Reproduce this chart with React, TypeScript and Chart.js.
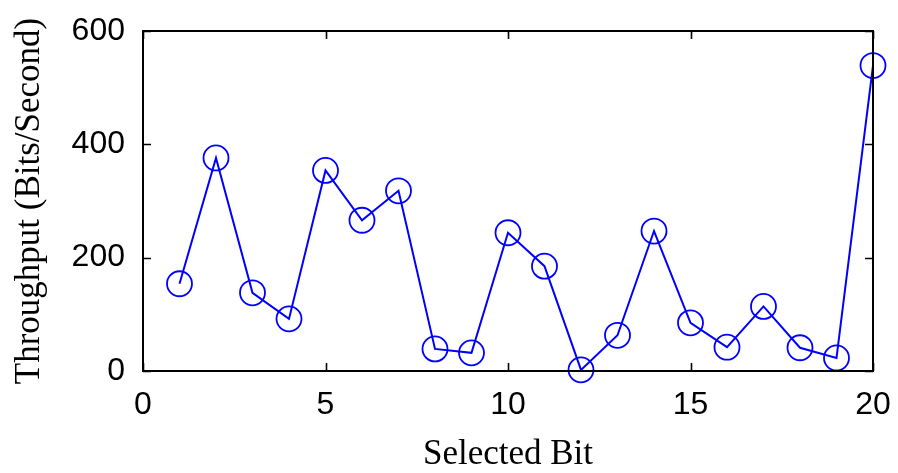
import React, { useEffect, useRef } from "react";
import { Chart, registerables } from "chart.js";

Chart.register(...registerables);

// Selected bit index (x) and measured throughput in bits/second (y)
const selectedBits = [1, 2, 3, 4, 5, 6, 7, 8, 9, 10, 11, 12, 13, 14, 15, 16, 17, 18, 19, 20];
const throughput = [154, 376, 138, 92, 354, 266, 318, 39, 32, 244, 185, 2, 63, 247, 85, 42, 114, 41, 23, 539];

const xTicks = [0, 5, 10, 15, 20];
const yTicks = [0, 200, 400, 600];

const WIDTH = 898;
const HEIGHT = 473;
const LINE_BLUE = "#0000ff";

// Draws the closed box around the plot area with short inward ticks on all four sides
const boxedAxesPlugin = {
  id: "boxedAxes",
  afterDatasetsDraw(chart: any) {
    const { ctx, chartArea, scales } = chart;
    const { left, right, top, bottom } = chartArea;
    const len = 8;
    ctx.save();
    ctx.strokeStyle = "#000";
    ctx.lineWidth = 2;
    ctx.strokeRect(left, top, right - left, bottom - top);
    ctx.beginPath();
    for (const v of xTicks) {
      const px = Math.round(scales.x.getPixelForValue(v)) + 0.5;
      ctx.moveTo(px, bottom);
      ctx.lineTo(px, bottom - len);
      ctx.moveTo(px, top);
      ctx.lineTo(px, top + len);
    }
    for (const v of yTicks) {
      const py = Math.round(scales.y.getPixelForValue(v)) + 0.5;
      ctx.moveTo(left, py);
      ctx.lineTo(left + len, py);
      ctx.moveTo(right, py);
      ctx.lineTo(right - len, py);
    }
    ctx.lineWidth = 1.6;
    ctx.stroke();
    ctx.restore();
  },
};

export default function App() {
  const canvasRef = useRef<HTMLCanvasElement | null>(null);

  useEffect(() => {
    if (!canvasRef.current) return;
    const points = selectedBits.map((b, i) => ({ x: b, y: throughput[i] }));
    const tickFont = { family: "'Liberation Sans', Arial, sans-serif", size: 32 };
    const titleFont = { family: "'Liberation Serif', 'Times New Roman', serif", size: 35, lineHeight: 1 };

    const chart = new Chart(canvasRef.current, {
      type: "line",
      data: {
        datasets: [
          {
            data: points,
            borderColor: LINE_BLUE,
            borderWidth: 2,
            pointRadius: 12.5,
            pointBorderWidth: 1.8,
            pointBorderColor: LINE_BLUE,
            pointBackgroundColor: "rgba(0,0,0,0)",
            pointStyle: "circle",
            tension: 0,
            fill: false,
            clip: false as any,
          },
        ],
      },
      options: {
        responsive: false,
        animation: false,
        layout: { padding: { top: 31, right: 25, bottom: 0, left: 0 } },
        plugins: {
          legend: { display: false },
          tooltip: { enabled: false },
        },
        scales: {
          x: {
            type: "linear",
            min: 0,
            max: 20,
            afterFit: (scale: any) => {
              scale.height = 102;
              scale.paddingLeft = 0;
              scale.paddingRight = 0;
            },
            afterBuildTicks: (scale: any) => {
              scale.ticks = xTicks.map((v) => ({ value: v }));
            },
            grid: { display: false, drawTicks: false },
            border: { display: false },
            ticks: {
              color: "#000",
              font: tickFont,
              padding: 15,
              maxRotation: 0,
            },
            title: {
              display: true,
              text: "Selected Bit",
              color: "#000",
              font: titleFont,
              padding: { top: 0, bottom: 1 },
            },
          },
          y: {
            type: "linear",
            min: 0,
            max: 600,
            afterFit: (scale: any) => {
              scale.width = 143;
              scale.paddingTop = 0;
              scale.paddingBottom = 0;
            },
            afterBuildTicks: (scale: any) => {
              scale.ticks = yTicks.map((v) => ({ value: v }));
            },
            grid: { display: false, drawTicks: false },
            border: { display: false },
            ticks: {
              color: "#000",
              font: tickFont,
              padding: 18,
            },
            title: {
              display: true,
              text: "Throughput (Bits/Second)",
              color: "#000",
              font: titleFont,
              padding: { top: 12, bottom: 0 },
            },
          },
        },
      },
      plugins: [boxedAxesPlugin],
    });

    return () => chart.destroy();
  }, []);

  return (
    <div style={{ position: "fixed", left: 0, top: 0, width: WIDTH, height: HEIGHT, background: "#fff" }}>
      <canvas ref={canvasRef} width={WIDTH} height={HEIGHT} />
    </div>
  );
}
